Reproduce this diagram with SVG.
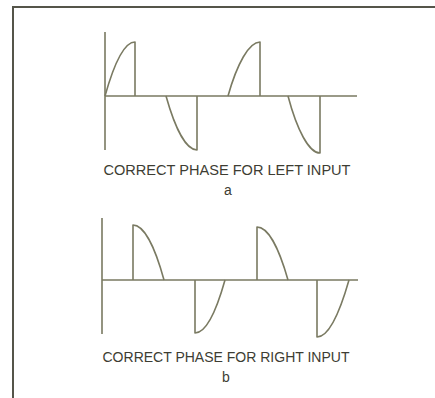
<svg xmlns="http://www.w3.org/2000/svg" width="435" height="398" viewBox="0 0 435 398">
<style>
.frame{fill:none;stroke:#55554a;stroke-width:2}
.w{fill:none;stroke:#7a7a62;stroke-width:1.6;stroke-linejoin:round}
.t{font-family:"Liberation Sans",Arial,sans-serif;font-size:14px;fill:#3d3d33;text-anchor:middle}
</style>
<rect width="435" height="398" fill="#ffffff"/>
<path class="frame" d="M13,398 V7 H435"/>
<g id="waveform-a">
<path class="w" d="M105,32 V150 M105,96 H357"/>
<path class="w" d="M105,96 C114,64 124,42 135,42 V96"/>
<path class="w" d="M166,96 C175,128 186,150 197,150 V96"/>
<path class="w" d="M228,96 C237,64 249,42 260,42 V96"/>
<path class="w" d="M288,96 C297,130 309,153 320,153 V96"/>
<text class="t" x="227" y="175" textLength="247" lengthAdjust="spacingAndGlyphs">CORRECT PHASE FOR LEFT INPUT</text>
<text class="t" x="228" y="195">a</text>
</g>
<g id="waveform-b">
<path class="w" d="M102,218 V334 M102,280 H358"/>
<path class="w" d="M133,280 V225 C144,225 155,247 164,280"/>
<path class="w" d="M195,280 V333 C206,333 216,312 225,280"/>
<path class="w" d="M257,280 V227 C268,227 279,248 288,280"/>
<path class="w" d="M317,280 V337 C328,337 339,315 349,280"/>
<text class="t" x="226" y="362" textLength="247" lengthAdjust="spacingAndGlyphs">CORRECT PHASE FOR RIGHT INPUT</text>
<text class="t" x="226" y="382">b</text>
</g>
<g id="connectors"></g>
</svg>
